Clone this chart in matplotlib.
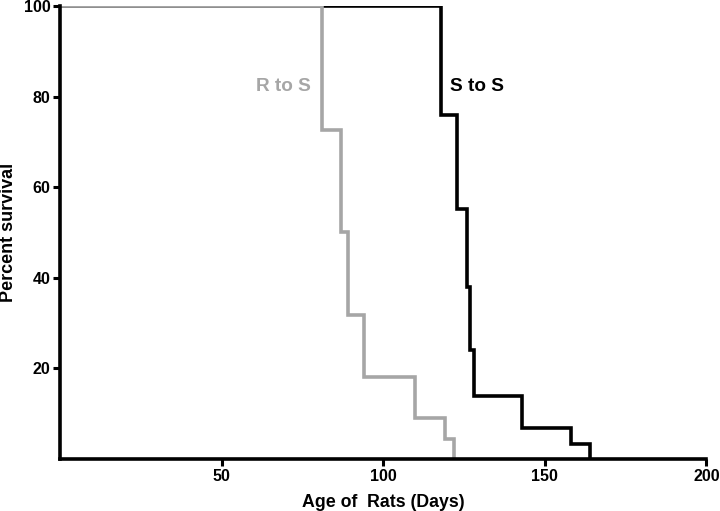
import matplotlib
matplotlib.use("Agg")
import matplotlib.pyplot as plt

plt.rcParams['font.family'] = ['Liberation Sans', 'DejaVu Sans']

# Step data (day, percent survival after the event)
r_days = [0, 81, 87, 89, 94, 110, 119, 122]
r_surv = [100, 72.7, 50.0, 31.8, 18.2, 9.1, 4.5, 0]
s_days = [0, 118, 123, 126, 127, 128, 143, 158, 164]
s_surv = [100, 75.9, 55.2, 37.9, 24.1, 13.8, 6.9, 3.4, 0]

x_ticks = [50, 100, 150, 200]
y_ticks = [20, 40, 60, 80, 100]

fig = plt.figure(figsize=(7.2, 5.11), dpi=100)
ax = fig.add_axes([0.0833, 0.1018, 0.8977, 0.8865])

ax.step(s_days, s_surv, where='post', color='black', lw=2.6, solid_joinstyle='miter')
ax.step(r_days, r_surv, where='post', color='#a6a6a6', lw=2.6, solid_joinstyle='miter')

ax.set_xlim(0, 200)
ax.set_ylim(0, 100)
ax.set_xticks(x_ticks)
ax.set_yticks(y_ticks)
for sp in ['top', 'right']:
    ax.spines[sp].set_visible(False)
for sp in ['left', 'bottom']:
    ax.spines[sp].set_linewidth(2.6)
ax.tick_params(direction='out', length=5, width=2.2, labelsize=11.5, pad=2)
for lab in ax.get_xticklabels() + ax.get_yticklabels():
    lab.set_fontweight('bold')

ax.set_xlabel('Age of  Rats (Days)', fontsize=12.8, fontweight='bold', va='center')
ax.set_ylabel('Percent survival', fontsize=13, fontweight='bold', va='center')
ax.xaxis.set_label_coords(0.5, -0.095)
ax.yaxis.set_label_coords(-0.080, 0.5)

ax.text(69.3, 82.3, 'R to S', color='#a6a6a6', fontsize=13.7, fontweight='bold', ha='center', va='center')
ax.text(129, 82.3, 'S to S', color='black', fontsize=13.7, fontweight='bold', ha='center', va='center')

fig.savefig('out.png', dpi=100)
